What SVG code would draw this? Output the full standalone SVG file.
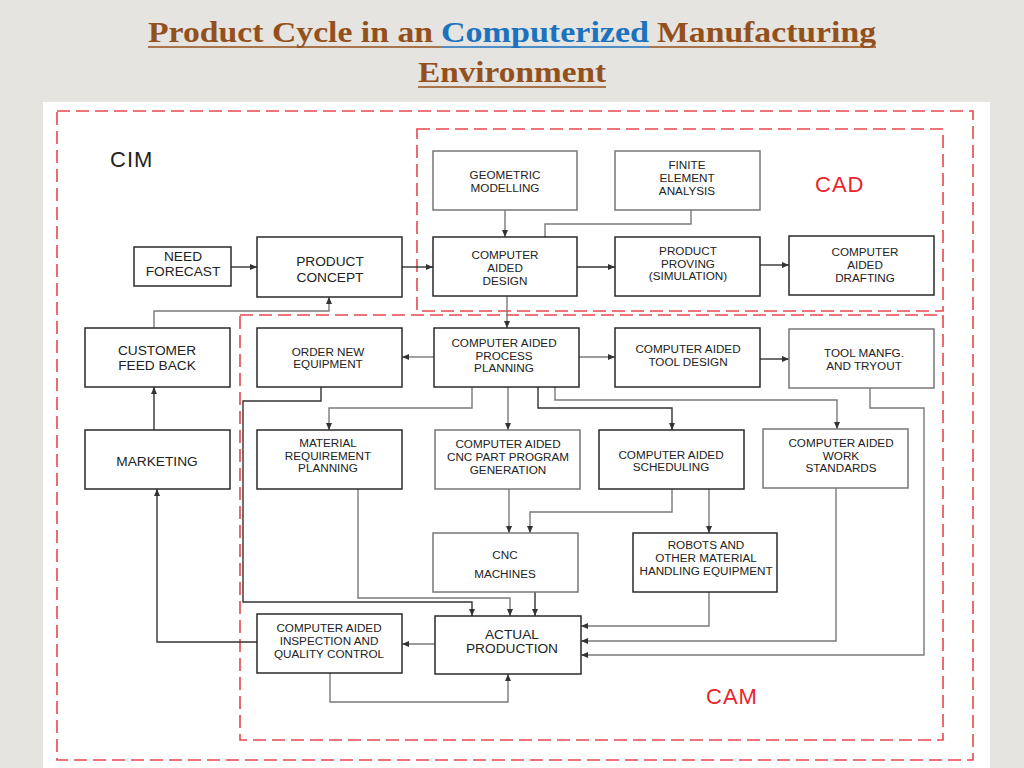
<svg xmlns="http://www.w3.org/2000/svg" width="1024" height="768" viewBox="0 0 1024 768">
<defs>
<marker id="arr" markerWidth="8" markerHeight="6" refX="7" refY="3" orient="auto" markerUnits="userSpaceOnUse">
<path d="M0,0 L7,3 L0,6 z" fill="#333"/>
</marker>
<style>
.bg{fill:#e5e4e0}
.panel{fill:#ffffff}
.zone{fill:none;stroke:#e8474c;stroke-width:1.6;stroke-dasharray:13 6}
.zl{font-family:"Liberation Sans",Arial,sans-serif;font-size:22px;letter-spacing:1px}
.red{fill:#e8262c}
.box{fill:#ffffff;stroke:#2a2a2a;stroke-width:1.5}
.boxg{fill:#ffffff;stroke:#777;stroke-width:1.5}
.t{font-family:"Liberation Sans",Arial,sans-serif;font-size:11.7px;fill:#222;text-anchor:middle}
.tb{font-family:"Liberation Sans",Arial,sans-serif;font-size:13.7px;fill:#222;text-anchor:middle}
.ln{fill:none;stroke:#333;stroke-width:1.4}
.lg{fill:none;stroke:#7a7a7a;stroke-width:1.4}
.ttl{font-family:"Liberation Serif","Times New Roman",serif;font-size:29px;font-weight:bold}
</style>
</defs>
<rect class="bg" x="0" y="0" width="1024" height="768"/>
<rect class="panel" x="43" y="102" width="947" height="666"/>

<g id="title">
<text class="ttl" x="148" y="42" fill="#94501c" textLength="285" lengthAdjust="spacingAndGlyphs">Product Cycle in an</text>
<text class="ttl" x="441" y="42" fill="#1b72bd" textLength="208" lengthAdjust="spacingAndGlyphs">Computerized</text>
<text class="ttl" x="657" y="42" fill="#94501c" textLength="219" lengthAdjust="spacingAndGlyphs">Manufacturing</text>
<text class="ttl" x="418" y="82" fill="#94501c" textLength="188" lengthAdjust="spacingAndGlyphs">Environment</text>
<line x1="148" y1="47" x2="441" y2="47" stroke="#94501c" stroke-width="1.6"/>
<line x1="441" y1="47" x2="650" y2="47" stroke="#1b72bd" stroke-width="1.6"/>
<line x1="650" y1="47" x2="876" y2="47" stroke="#94501c" stroke-width="1.6"/>
<line x1="418" y1="87" x2="606" y2="87" stroke="#94501c" stroke-width="1.6"/>
</g>

<g id="zones">
<rect class="zone" x="57" y="111" width="916" height="649"/>
<rect class="zone" x="417" y="129" width="526" height="182"/>
<rect class="zone" x="240" y="315" width="703" height="425"/>
<text class="zl" x="110" y="167" fill="#222">CIM</text>
<text class="zl red" x="815" y="192">CAD</text>
<text class="zl red" x="706" y="704">CAM</text>
</g>

<g id="connectors">
<path class="ln" d="M231,267 H257" marker-end="url(#arr)"/>
<path class="ln" d="M402,267 H433" marker-end="url(#arr)"/>
<path class="lg" d="M505,210 V237" marker-end="url(#arr)"/>
<path class="lg" d="M691,210 V224 H545 V237"/>
<path class="ln" d="M577,267 H615" marker-end="url(#arr)"/>
<path class="ln" d="M760,265 H789" marker-end="url(#arr)"/>
<path class="lg" d="M507,296 V328" marker-end="url(#arr)"/>
<path class="lg" d="M154,328 V311 H329 V297" marker-end="url(#arr)"/>
<path class="ln" d="M154,430 V387" marker-end="url(#arr)"/>
<path class="ln" d="M257,642 H157 V489" marker-end="url(#arr)"/>
<path class="lg" d="M434,357 H402" marker-end="url(#arr)"/>
<path class="ln" d="M321,387 V401 H243 V602 H472 V616" marker-end="url(#arr)"/>
<path class="lg" d="M472,387 V408 H329 V430" marker-end="url(#arr)"/>
<path class="lg" d="M508,387 V430" marker-end="url(#arr)"/>
<path class="ln" d="M538,387 V408 H672 V430" marker-end="url(#arr)"/>
<path class="lg" d="M555,387 V400 H837 V429" marker-end="url(#arr)"/>
<path class="lg" d="M579,357 H615" marker-end="url(#arr)"/>
<path class="ln" d="M760,359 H789" marker-end="url(#arr)"/>
<path class="lg" d="M870,388 V408 H924 V655 H581" marker-end="url(#arr)"/>
<path class="lg" d="M836,488 V641 H581" marker-end="url(#arr)"/>
<path class="lg" d="M709,592 V626 H581" marker-end="url(#arr)"/>
<path class="lg" d="M709,489 V533" marker-end="url(#arr)"/>
<path class="lg" d="M672,489 V512 H530 V533" marker-end="url(#arr)"/>
<path class="lg" d="M509,489 V533" marker-end="url(#arr)"/>
<path class="ln" d="M535,592 V616" marker-end="url(#arr)"/>
<path class="lg" d="M358,489 V598 H510 V616" marker-end="url(#arr)"/>
<path class="lg" d="M435,644 H402" marker-end="url(#arr)"/>
<path class="lg" d="M330,673 V702 H508 V674" marker-end="url(#arr)"/>
</g>

<g id="geometric-modelling"><rect class="boxg" x="433" y="151" width="144" height="59"/>
<text class="t" x="505" y="179">GEOMETRIC</text><text class="t" x="505" y="192">MODELLING</text></g>

<g id="finite-element-analysis"><rect class="boxg" x="615" y="151" width="145" height="59"/>
<text class="t" x="687" y="169">FINITE</text><text class="t" x="687" y="182">ELEMENT</text><text class="t" x="687" y="195">ANALYSIS</text></g>

<g id="need-forecast"><rect class="box" x="134" y="247" width="97" height="39"/>
<text class="tb" x="183" y="261">NEED</text><text class="tb" x="183" y="276">FORECAST</text></g>

<g id="product-concept"><rect class="box" x="257" y="237" width="145" height="60"/>
<text class="tb" x="330" y="266">PRODUCT</text><text class="tb" x="330" y="282">CONCEPT</text></g>

<g id="computer-aided-design"><rect class="box" x="433" y="237" width="144" height="59"/>
<text class="t" x="505" y="259">COMPUTER</text><text class="t" x="505" y="272">AIDED</text><text class="t" x="505" y="285">DESIGN</text></g>

<g id="product-proving"><rect class="box" x="615" y="237" width="145" height="59"/>
<text class="t" x="688" y="255">PRODUCT</text><text class="t" x="688" y="268">PROVING</text><text class="t" x="688" y="280">(SIMULATION)</text></g>

<g id="computer-aided-drafting"><rect class="box" x="789" y="236" width="145" height="59"/>
<text class="t" x="865" y="256">COMPUTER</text><text class="t" x="865" y="269">AIDED</text><text class="t" x="865" y="282">DRAFTING</text></g>

<g id="customer-feed-back"><rect class="box" x="85" y="328" width="145" height="59"/>
<text class="tb" x="157" y="355">CUSTOMER</text><text class="tb" x="157" y="370">FEED BACK</text></g>

<g id="order-new-equipment"><rect class="box" x="257" y="328" width="145" height="59"/>
<text class="t" x="328" y="356">ORDER NEW</text><text class="t" x="328" y="368">EQUIPMENT</text></g>

<g id="computer-aided-process-planning"><rect class="box" x="434" y="328" width="145" height="59"/>
<text class="t" x="504" y="347">COMPUTER AIDED</text><text class="t" x="504" y="360">PROCESS</text><text class="t" x="504" y="372">PLANNING</text></g>

<g id="computer-aided-tool-design"><rect class="box" x="615" y="328" width="145" height="59"/>
<text class="t" x="688" y="353">COMPUTER AIDED</text><text class="t" x="688" y="366">TOOL DESIGN</text></g>

<g id="tool-manfg-and-tryout"><rect class="boxg" x="789" y="329" width="145" height="59"/>
<text class="t" x="864" y="357">TOOL MANFG.</text><text class="t" x="864" y="370">AND TRYOUT</text></g>

<g id="marketing"><rect class="box" x="85" y="430" width="145" height="59"/>
<text class="tb" x="157" y="466">MARKETING</text></g>

<g id="material-requirement-planning"><rect class="box" x="257" y="430" width="145" height="59"/>
<text class="t" x="328" y="447">MATERIAL</text><text class="t" x="328" y="460">REQUIREMENT</text><text class="t" x="328" y="472">PLANNING</text></g>

<g id="cnc-part-program-generation"><rect class="boxg" x="435" y="430" width="145" height="59"/>
<text class="t" x="508" y="448">COMPUTER AIDED</text><text class="t" x="508" y="461">CNC PART PROGRAM</text><text class="t" x="508" y="474">GENERATION</text></g>

<g id="computer-aided-scheduling"><rect class="box" x="599" y="430" width="145" height="59"/>
<text class="t" x="671" y="459">COMPUTER AIDED</text><text class="t" x="671" y="471">SCHEDULING</text></g>

<g id="computer-aided-work-standards"><rect class="boxg" x="763" y="429" width="145" height="59"/>
<text class="t" x="841" y="447">COMPUTER AIDED</text><text class="t" x="841" y="460">WORK</text><text class="t" x="841" y="472">STANDARDS</text></g>

<g id="cnc-machines"><rect class="boxg" x="433" y="533" width="145" height="59"/>
<text class="t" x="505" y="559">CNC</text><text class="t" x="505" y="578">MACHINES</text></g>

<g id="robots-material-handling"><rect class="box" x="633" y="533" width="144" height="59"/>
<text class="t" x="706" y="549">ROBOTS AND</text><text class="t" x="706" y="562">OTHER MATERIAL</text><text class="t" x="706" y="575">HANDLING EQUIPMENT</text></g>

<g id="inspection-quality-control"><rect class="box" x="257" y="614" width="145" height="59"/>
<text class="t" x="329" y="632">COMPUTER AIDED</text><text class="t" x="329" y="645">INSPECTION AND</text><text class="t" x="329" y="658">QUALITY CONTROL</text></g>

<g id="actual-production"><rect class="box" x="435" y="616" width="146" height="58"/>
<text class="tb" x="512" y="639">ACTUAL</text><text class="tb" x="512" y="653">PRODUCTION</text></g>
</svg>
